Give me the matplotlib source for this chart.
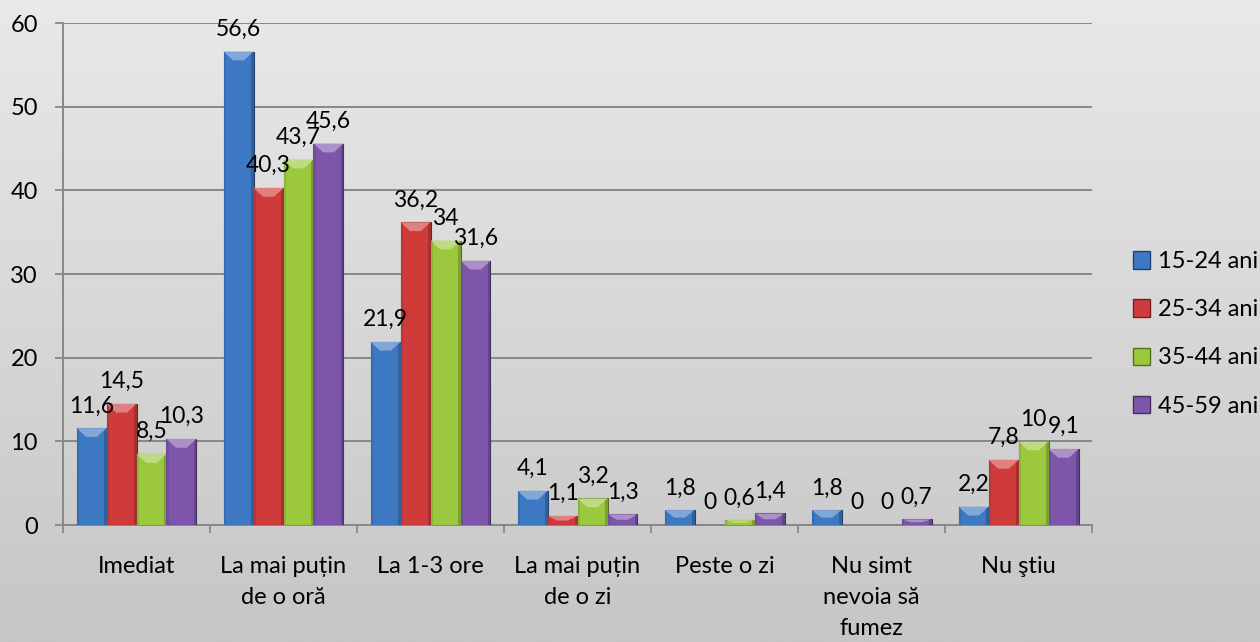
import numpy as np
import matplotlib
matplotlib.use('Agg')
import matplotlib.pyplot as plt
from matplotlib.patches import Polygon, Patch
from matplotlib.colors import to_rgb

plt.rcParams['font.family'] = ['Lato', 'DejaVu Sans']

categories = ['Imediat', 'La mai puțin\nde o oră', 'La 1-3 ore', 'La mai puțin\nde o zi',
              'Peste o zi', 'Nu simt\nnevoia să\nfumez', 'Nu ştiu']
series_names = ['15-24 ani', '25-34 ani', '35-44 ani', '45-59 ani']
v_15_24 = [11.6, 56.6, 21.9, 4.1, 1.8, 1.8, 2.2]
v_25_34 = [14.5, 40.3, 36.2, 1.1, 0, 0, 7.8]
v_35_44 = [8.5, 43.7, 34, 3.2, 0.6, 0, 10]
v_45_59 = [10.3, 45.6, 31.6, 1.3, 1.4, 0.7, 9.1]
y_ticks = [0, 10, 20, 30, 40, 50, 60]

COLORS = ['#3d78c3', '#cf3b3b', '#9cc83e', '#7d56ab']


def shade(c, f):
    r, g, b = to_rgb(c)
    if f >= 0:
        return (r + (1 - r) * f, g + (1 - g) * f, b + (1 - b) * f)
    return (r * (1 + f), g * (1 + f), b * (1 + f))


fig = plt.figure(figsize=(12.6, 6.42), dpi=100)

# gradient background
bg = fig.add_axes([0, 0, 1, 1], zorder=0)
grad = np.linspace(0, 1, 256).reshape(-1, 1)
top, bot = np.array(to_rgb('#e9e9e9')), np.array(to_rgb('#c6c6c6'))
img = top[None, None, :] * (1 - grad[:, :, None]) + bot[None, None, :] * grad[:, :, None]
bg.imshow(img, aspect='auto', extent=[0, 1, 0, 1])
bg.axis('off')

ax = fig.add_axes([0.05, 0.182, 0.8167, 0.782], zorder=1)
ax.patch.set_alpha(0)

all_series = [v_15_24, v_25_34, v_35_44, v_45_59]
n = len(all_series)
x = np.arange(len(categories))
width = 0.204
bevel_h = 1.05

for i, (vals, col) in enumerate(zip(all_series, COLORS)):
    pos = x + (i - (n - 1) / 2) * width
    ax.bar(pos, vals, width, color=col, edgecolor=shade(col, -0.45), linewidth=0.8, zorder=3)
    for xp, v in zip(pos, vals):
        if v > 0:
            h = min(bevel_h, v * 0.5)
            x0, x1 = xp - width / 2, xp + width / 2
            # light top bevel
            ax.add_patch(Polygon([(x0, v), (x1, v), (xp + width * 0.18, v - h), (xp - width * 0.18, v - h)],
                                 closed=True, facecolor=shade(col, 0.35), edgecolor='none', zorder=4))
            # darker side bevels
            ax.add_patch(Polygon([(x1, v), (x1, 0), (x1 - width * 0.08, 0), (x1 - width * 0.08, v - h * 0.3)],
                                 closed=True, facecolor=shade(col, -0.2), edgecolor='none', zorder=4))
            ax.add_patch(Polygon([(x0, v), (x0, 0), (x0 + width * 0.08, 0), (x0 + width * 0.08, v - h * 0.3)],
                                 closed=True, facecolor=shade(col, -0.1), edgecolor='none', zorder=4))
        ax.annotate(f"{v:g}".replace('.', ','), (xp, v), xytext=(0, 16), textcoords='offset points',
                    ha='center', va='center', fontsize=16.5, color='black', zorder=5)

ax.set_xlim(-0.5, len(categories) - 0.5)
ax.set_ylim(0, 60)
ax.set_yticks(y_ticks)
ax.set_xticks(x)
ax.set_xticklabels(categories, fontsize=17, linespacing=1.6)
ax.set_xticks(np.arange(-0.5, len(categories)), minor=True)
ax.tick_params(axis='x', which='major', length=0, pad=22)
ax.tick_params(axis='x', which='minor', length=6, color='#888888', width=1.3)
ax.tick_params(axis='y', length=6, color='#888888', width=1.3, labelsize=17, pad=12)
ax.grid(axis='y', color='#888888', linewidth=1.4, zorder=0)
for s in ['top', 'right']:
    ax.spines[s].set_visible(False)
for s in ['left', 'bottom']:
    ax.spines[s].set_color('#888888')
    ax.spines[s].set_linewidth(1.4)

handles = [Patch(facecolor=c, edgecolor=shade(c, -0.45)) for c in COLORS]
fig.legend(handles, series_names, loc='center left', bbox_to_anchor=(0.899, 0.48), frameon=False,
           fontsize=17, handlelength=0.75, handleheight=0.75, handletextpad=0.3, labelspacing=1.15,
           borderpad=0, borderaxespad=0)

fig.savefig('out.png', dpi=100)
